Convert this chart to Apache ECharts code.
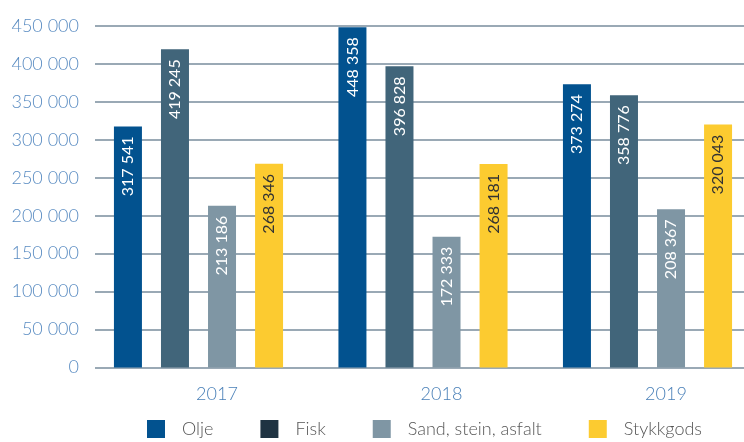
<!DOCTYPE html>
<html>
<head>
<meta charset="utf-8">
<script src="https://cdn.jsdelivr.net/npm/echarts@6/dist/echarts.min.js"></script>
<style>
html,body{margin:0;padding:0;background:#fff;}
#chart{width:744px;height:442px;}
</style>
</head>
<body>
<div id="chart"></div>
<script>
var chart = echarts.init(document.getElementById('chart'));

var years = ['2017', '2018', '2019'];
var olje = [317541, 448358, 373274];
var fisk = [419245, 396828, 358776];
var sand = [213186, 172333, 208367];
var stykkgods = [268346, 268181, 320043];
var yTicks = [0, 450000, 50000]; // min, max, interval

var names = ['Olje', 'Fisk', 'Sand, stein, asfalt', 'Stykkgods'];
var barColors = ['#02528f', '#41657a', '#7f96a4', '#fccb30'];
var legendColors = ['#02528f', '#1f3342', '#7f96a4', '#fccb30'];
var labelColors = ['#ffffff', '#ffffff', '#ffffff', '#333333'];

//space as thousands separator
function fmt(v) {
    return String(v).replace(/\B(?=(\d{3})+(?!\d))/g, ' ');
}

var seriesData = [olje, fisk, sand, stykkgods];
var series = [];
for (var i = 0; i < names.length; i++) {
    series.push({
        name: names[i],
        type: 'bar',
        xAxisIndex: 0,
        yAxisIndex: 0,
        clip: false,
        barWidth: 28,
        barGap: '68%',
        data: seriesData[i],
        itemStyle: { color: barColors[i] },
        label: {
            show: true,
            position: 'insideTop',
            rotate: 90,
            align: 'right',
            verticalAlign: 'middle',
            distance: 10,
            color: labelColors[i],
            fontFamily: 'Lato',
            fontSize: 16,
            formatter: function (p) { return fmt(p.value); }
        }
    });
}

var option = {
    animation: false,
    textStyle: { fontFamily: 'Lato' },
    legend: {
        top: 420,
        left: 147,
        padding: 0,
        itemWidth: 18,
        itemHeight: 18,
        itemGap: 47,
        icon: 'rect',
        textStyle: { color: '#555', fontSize: 18, fontWeight: 300, fontFamily: 'Lato', padding: [0, 0, 0, 12] },
        data: names.map(function (n, i) {
            return { name: n, itemStyle: { color: legendColors[i] } };
        })
    },
    grid: [
        // bars: group centres sit on the ticks, so the band is wider than the plot
        { left: 198.5, right: 96.5, top: 26, bottom: 74.5 },
        { left: 95, right: 0, top: 26, bottom: 74.5 }
    ],
    xAxis: [
        {
            gridIndex: 0,
            type: 'category',
            boundaryGap: false,
            data: years,
            axisLine: { show: false },
            axisTick: { show: false },
            splitLine: { show: false },
            axisLabel: {
                color: '#4a80b8',
                fontSize: 18,
                fontWeight: 300,
                margin: 18,
                padding: [0, 0, 0, 37]
            }
        },
        {
            gridIndex: 1,
            type: 'value',
            show: false
        }
    ],
    yAxis: [
        {
            gridIndex: 0,
            type: 'value',
            min: yTicks[0],
            max: yTicks[1],
            interval: yTicks[2],
            show: false
        },
        {
            gridIndex: 1,
            type: 'value',
            min: yTicks[0],
            max: yTicks[1],
            interval: yTicks[2],
            axisLine: { show: false },
            axisTick: { show: false },
            splitLine: { lineStyle: { color: '#9aa9b5', width: 2 } },
            axisLabel: {
                color: '#5a8cc2',
                fontSize: 18,
                fontWeight: 300,
                margin: 16,
                padding: [0, 0, 10, 0],
                formatter: function (v) { return fmt(v); }
            }
        }
    ],
    series: series
};
chart.setOption(option);
</script>
</body>
</html>
